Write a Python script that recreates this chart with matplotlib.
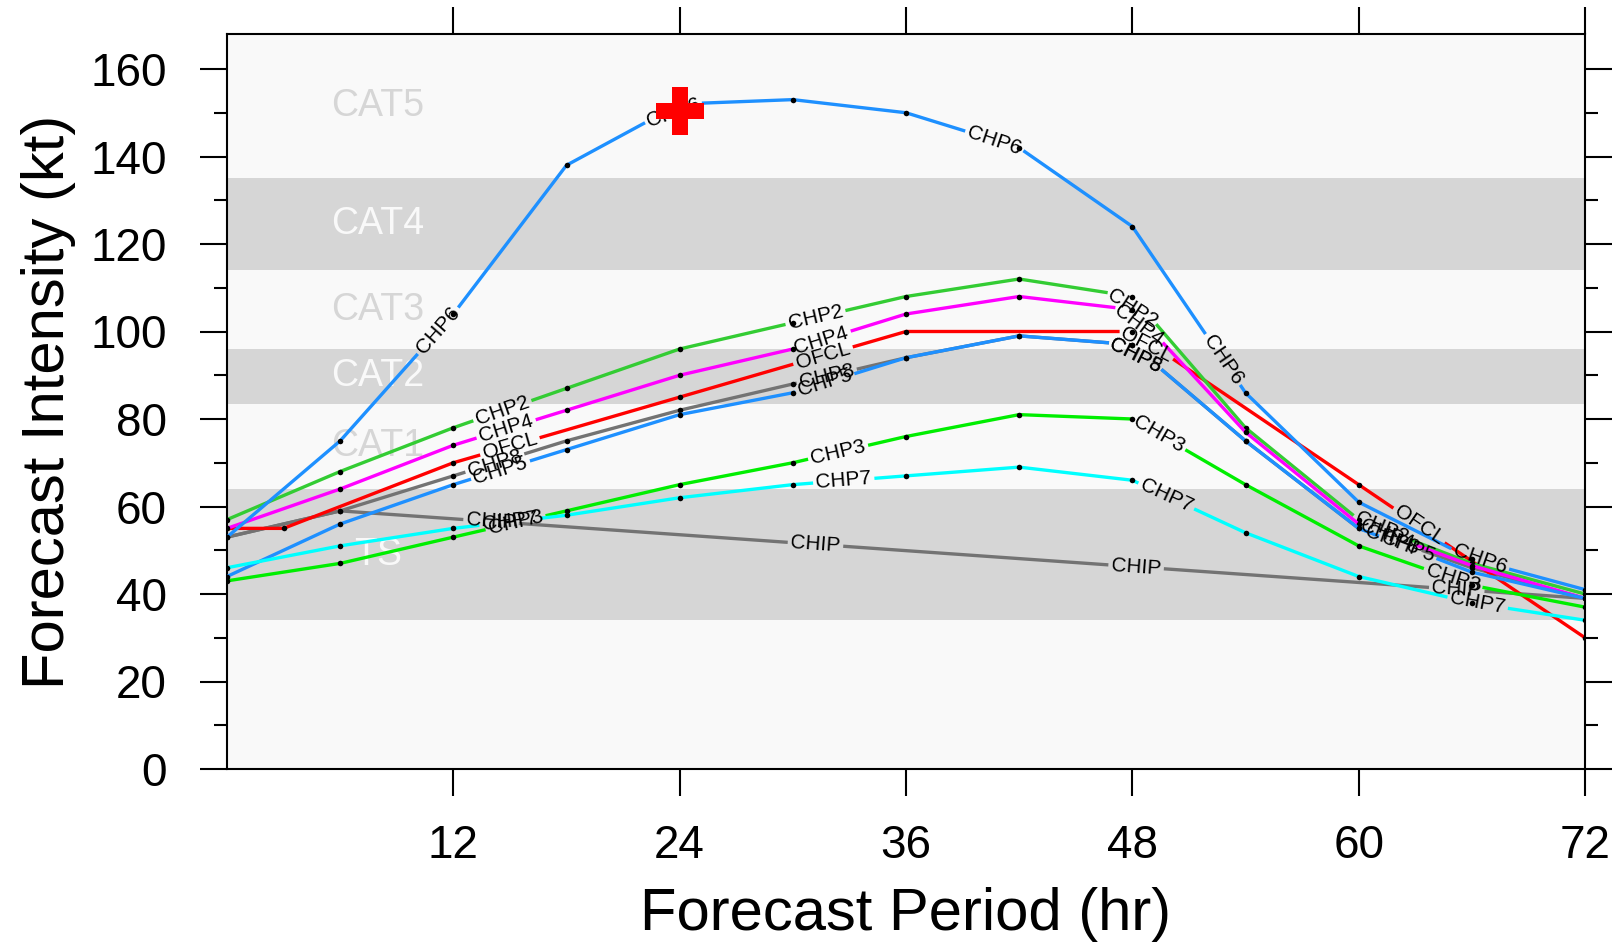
import matplotlib.pyplot as plt
import numpy as np
from matplotlib.textpath import TextPath
from matplotlib.font_manager import FontProperties

plt.rcParams['font.family'] = ['Liberation Sans', 'DejaVu Sans']

# forecast hours
hours = [0, 6, 12, 18, 24, 30, 36, 42, 48, 54, 60, 66, 72]
ofcl_hours = [0, 3, 12, 24, 36, 48, 60, 72]
chip_hours = [0, 6, 72]

# intensities (kt)
chip = [53, 59, 39]
chp8 = [53, 59, 67, 75, 82, 88, 94, 99, 97, 75, 55, 46, 39]
ofcl = [55, 55, 70, 85, 100, 100, 65, 30]
chp2 = [57, 68, 78, 87, 96, 102, 108, 112, 108, 78, 57, 47, 40]
chp3 = [43, 47, 53, 59, 65, 70, 76, 81, 80, 65, 51, 42, 37]
chp4 = [55, 64, 74, 82, 90, 96, 104, 108, 105, 77, 56, 46.5, 39]
chp5 = [44, 56, 65, 73, 81, 86, 94, 99, 97, 75, 55, 45, 39]
chp6 = [53, 75, 104, 138, 152, 153, 150, 142, 124, 86, 61, 48, 41]
chp7 = [46, 51, 55, 58, 62, 65, 67, 69, 66, 54, 44, 38, 34]

# observed point
obs_hour = 24
obs_kt = 150.5

# Saffir-Simpson bands
band_edges = [0, 34, 64, 83.5, 96, 114, 135, 168]
band_names = ['', 'TS', 'CAT1', 'CAT2', 'CAT3', 'CAT4', 'CAT5']

series = [
    ('CHIP', chip_hours, chip, '#737373', [14.0, 31.2, 48.2, 65.2]),
    ('CHP8', hours, chp8, '#737373', [14.2, 31.8, 48.3, 61.8]),
    ('OFCL', ofcl_hours, ofcl, '#ff0000', [15.0, 31.6, 48.8, 63.2]),
    ('CHP2', hours, chp2, '#33cc33', [14.6, 31.2, 48.2, 61.2]),
    ('CHP3', hours, chp3, '#00ee00', [15.3, 32.4, 49.4, 65.0]),
    ('CHP4', hours, chp4, '#ff00ff', [14.8, 31.5, 48.5, 61.5]),
    ('CHP5', hours, chp5, '#1e90ff', [14.5, 31.7, 48.3, 62.6]),
    ('CHP6', hours, chp6, '#1e90ff', [11.2, 23.6, 40.7, 52.8, 66.4]),
    ('CHP7', hours, chp7, '#00ffff', [15.0, 32.7, 49.8, 66.3]),
]

light = '#f9f9f9'
dark = '#d6d6d6'
label_fs = 15
dpi = 100

fig = plt.figure(figsize=(16.19, 9.44), dpi=dpi)
ax = fig.add_axes([227 / 1619, 1 - 769 / 944, (1585 - 227) / 1619, (769 - 34) / 944])
ax.set_xlim(0, 72)
ax.set_ylim(0, 168)

for i in range(len(band_edges) - 1):
    c = dark if i % 2 == 1 else light
    ax.axhspan(band_edges[i], band_edges[i + 1], color=c, lw=0, zorder=0)
    if band_names[i]:
        tc = light if c == dark else dark
        ax.text(8, (band_edges[i] + band_edges[i + 1]) / 2, band_names[i],
                color=tc, fontsize=27, ha='center', va='center', zorder=1)

fp = FontProperties(family='Liberation Sans')


def point_at(disp, cum, s):
    s = min(max(s, 0), cum[-1])
    i = min(np.searchsorted(cum, s, side='right') - 1, len(cum) - 2)
    f = (s - cum[i]) / (cum[i + 1] - cum[i])
    return disp[i] + f * (disp[i + 1] - disp[i])


inv = ax.transData.inverted()
for k, (name, xs, ys, color, lab_hours) in enumerate(series):
    xs = np.asarray(xs, float)
    ys = np.asarray(ys, float)
    disp = ax.transData.transform(np.column_stack([xs, ys]))
    seg = np.hypot(*np.diff(disp, axis=0).T)
    cum = np.concatenate([[0], np.cumsum(seg)])
    w = TextPath((0, 0), name, size=label_fs, prop=fp).get_extents().width * dpi / 72
    half = w / 2 + 4
    gaps = []
    for h in lab_hours:
        i = min(np.searchsorted(xs, h, side='right') - 1, len(xs) - 2)
        s = cum[i] + (h - xs[i]) / (xs[i + 1] - xs[i]) * seg[i]
        gaps.append((s - half, s + half))
    # line pieces between label gaps
    cur = 0.0
    bounds = []
    for a, b in gaps:
        bounds.append((cur, a))
        cur = b
    bounds.append((cur, cum[-1]))
    for a, b in bounds:
        if b <= a:
            continue
        pts = [point_at(disp, cum, a)] + [disp[j] for j in range(len(cum)) if a < cum[j] < b] \
            + [point_at(disp, cum, b)]
        d = inv.transform(np.array(pts))
        ax.plot(d[:, 0], d[:, 1], color=color, lw=2.4, solid_capstyle='butt', zorder=2 + k * 0.1)
    ax.plot(xs, ys, 'o', color='black', ms=4, mew=0, zorder=2.05 + k * 0.1)
    # labels along the line
    for a, b in gaps:
        p1 = point_at(disp, cum, a)
        p2 = point_at(disp, cum, b)
        ang = np.degrees(np.arctan2(p2[1] - p1[1], p2[0] - p1[0]))
        if ang > 90:
            ang -= 180
        elif ang < -90:
            ang += 180
        c = inv.transform((p1 + p2) / 2)
        ax.text(c[0], c[1], name, fontsize=label_fs, rotation=ang, rotation_mode='anchor',
                ha='center', va='center', color='black', zorder=4)

ax.plot(obs_hour, obs_kt, 'P', color='#ff0000', ms=34, mew=0, zorder=6)

ax.set_xticks([12, 24, 36, 48, 60, 72])
ax.set_yticks(range(0, 161, 20))
ax.set_yticks(range(10, 161, 20), minor=True)
ax.tick_params(which='both', direction='out', top=True, right=True, width=1.5,
               labelsize=33, labeltop=False, labelright=False)
ax.tick_params(which='major', length=19.5)
ax.tick_params(which='minor', length=9.5)
ax.tick_params(axis='y', pad=24)
ax.tick_params(axis='x', pad=20)
for sp in ax.spines.values():
    sp.set_linewidth(1.5)

ax.set_xlabel('Forecast Period (hr)', fontsize=43, labelpad=14)
ax.set_ylabel('Forecast Intensity (kt)', fontsize=43, labelpad=10)

fig.savefig('out.png', dpi=dpi)
